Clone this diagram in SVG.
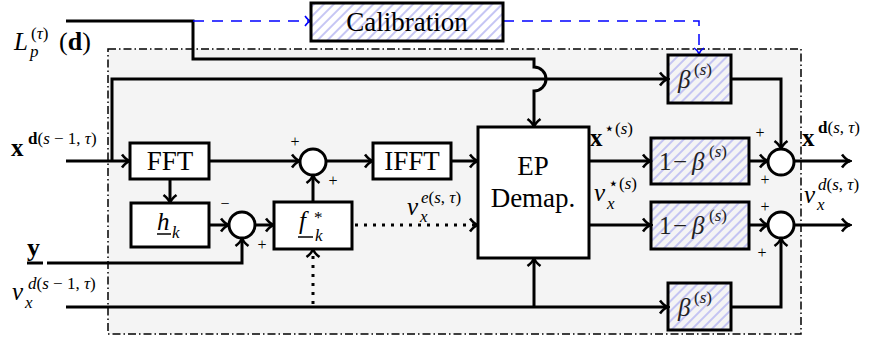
<svg xmlns="http://www.w3.org/2000/svg" width="873" height="343" viewBox="0 0 873 343">
<defs>
<pattern id="hatch" patternUnits="userSpaceOnUse" width="7" height="7" patternTransform="rotate(45)">
<line x1="1" y1="0" x2="1" y2="7" stroke="#b8b8f2" stroke-width="1.6"/>
</pattern>
<marker id="arr" viewBox="-10 -8 12 16" refX="0" refY="0" markerWidth="12" markerHeight="16" markerUnits="userSpaceOnUse" orient="auto">
<path d="M-8,-6.5 C-5,-2.5 -2,-0.6 0,0 C-2,0.6 -5,2.5 -8,6.5" fill="none" stroke="#000" stroke-width="2.6"/>
</marker>
<marker id="barr" viewBox="-10 -8 12 16" refX="0" refY="0" markerWidth="12" markerHeight="16" markerUnits="userSpaceOnUse" orient="auto">
<path d="M-6,-5 C-4,-2 -2,-0.5 0,0 C-2,0.5 -4,2 -6,5" fill="none" stroke="#0000ff" stroke-width="1.5"/>
</marker>
</defs>
<style>
.ln{fill:none;stroke:#000;stroke-width:3}
.dot{fill:none;stroke:#000;stroke-width:3;stroke-dasharray:3 6}
.bl{fill:none;stroke:#0000ff;stroke-width:1.5;stroke-dasharray:11 8}
.box{fill:#fff;stroke:#000;stroke-width:3}
.hb{fill:url(#hatch);stroke:#000;stroke-width:3}
.sum{fill:#fff;stroke:#000;stroke-width:3}
.t{font-family:'Liberation Serif','Times New Roman','DejaVu Serif',serif;fill:#000}
.bx{font-size:27px}
.m{font-size:25px}
.s{font-size:17px}
.i{font-style:italic}
.b{font-weight:bold}
.pm{font-size:16px;text-anchor:middle}
.c{text-anchor:middle}
.g{fill:#222}
</style>
<rect x="0" y="0" width="873" height="343" fill="#fff"/>
<rect id="frame" x="108" y="49" width="693" height="285" fill="#f4f4f4" stroke="#000" stroke-width="1.5" stroke-dasharray="8 3 1.5 3"/>

<g id="connectors">
<path class="ln" d="M66,21 H193 V59 H534 V67 A12,12 0 0 1 534,91 V127" marker-end="url(#arr)"/>
<path class="bl" d="M193,21 H311" marker-end="url(#barr)"/>
<path class="bl" d="M503,21 H699 V54" marker-end="url(#barr)"/>
<path class="ln" d="M66,161 H130" marker-end="url(#arr)"/>
<path class="ln" d="M112,161 V79 H668" marker-end="url(#arr)"/>
<path class="ln" d="M209,161 H300" marker-end="url(#arr)"/>
<path class="ln" d="M170,179 V203" marker-end="url(#arr)"/>
<path class="ln" d="M209,225 H229" marker-end="url(#arr)"/>
<path class="ln" d="M47,263 H242 V238" marker-end="url(#arr)"/>
<path class="ln" d="M255,225 H274" marker-end="url(#arr)"/>
<path class="ln" d="M313,202 V175" marker-end="url(#arr)"/>
<path class="ln" d="M326,161 H373" marker-end="url(#arr)"/>
<path class="ln" d="M451,161 H478" marker-end="url(#arr)"/>
<path class="dot" d="M355,225 H478" marker-end="url(#arr)"/>
<path class="ln" d="M66,307 H668" marker-end="url(#arr)"/>
<path class="ln" d="M534,307 V258" marker-end="url(#arr)"/>
<path class="dot" d="M313,304 V249" marker-end="url(#arr)"/>
<path class="ln" d="M589,161 H651" marker-end="url(#arr)"/>
<path class="ln" d="M589,225 H651" marker-end="url(#arr)"/>
<path class="ln" d="M749,161 H768" marker-end="url(#arr)"/>
<path class="ln" d="M749,225 H768" marker-end="url(#arr)"/>
<path class="ln" d="M731,79 H781 V149" marker-end="url(#arr)"/>
<path class="ln" d="M731,307 H781 V238" marker-end="url(#arr)"/>
<path class="ln" d="M794,161 H850" marker-end="url(#arr)"/>
<path class="ln" d="M794,225 H850" marker-end="url(#arr)"/>
</g>

<g id="calibration">
<rect class="hb" x="311" y="3" width="192" height="38"/>
<text class="t c" x="407" y="31" font-size="27">Calibration</text>
</g>

<g id="fft">
<rect class="box" x="130" y="143" width="79" height="36"/>
<text class="t bx c" x="170" y="170">FFT</text>
</g>

<g id="hk">
<rect class="box" x="131" y="203" width="78" height="44"/>
<text class="t m i" x="157" y="230">h<tspan class="s" x="172" y="238">k</tspan></text>
<line x1="157" y1="234" x2="171" y2="234" stroke="#000" stroke-width="1.5"/>
</g>

<g id="sum1">
<circle class="sum" cx="242" cy="225" r="13"/>
<text class="t pm" x="225" y="209">−</text>
<text class="t pm" x="262" y="250">+</text>
</g>

<g id="fk">
<rect class="box" x="274" y="202" width="78" height="47"/>
<text class="t m i" x="299" y="229">f<tspan class="s" x="314" y="223" font-style="normal">*</tspan><tspan class="s" x="315" y="241">k</tspan></text>
<line x1="298" y1="237" x2="313" y2="237" stroke="#000" stroke-width="1.5"/>
</g>

<g id="sum2">
<circle class="sum" cx="313" cy="162" r="13"/>
<text class="t pm" x="295" y="147">+</text>
<text class="t pm" x="333" y="186">+</text>
</g>

<g id="ifft">
<rect class="box" x="373" y="143" width="78" height="36"/>
<text class="t bx c" x="412" y="170">IFFT</text>
</g>

<g id="ep">
<rect class="box" x="478" y="127" width="111" height="131"/>
<text class="t bx c" x="533" y="175">EP</text>
<text class="t bx c" x="533" y="207">Demap.</text>
</g>

<g id="beta-top">
<rect class="hb" x="668" y="55" width="63" height="48"/>
<text class="t m i g" x="678" y="88">β<tspan class="s" x="694" y="75" font-style="normal">(<tspan font-style="italic">s</tspan>)</tspan></text>
</g>

<g id="omb-top">
<rect class="hb" x="651" y="138" width="98" height="46"/>
<text class="t m g" x="659" y="170">1<tspan x="673">−</tspan><tspan class="i" x="692">β</tspan><tspan class="s" x="709" y="157">(<tspan class="i">s</tspan>)</tspan></text>
</g>

<g id="omb-bot">
<rect class="hb" x="651" y="202" width="98" height="47"/>
<text class="t m g" x="659" y="234">1<tspan x="673">−</tspan><tspan class="i" x="692">β</tspan><tspan class="s" x="709" y="221">(<tspan class="i">s</tspan>)</tspan></text>
</g>

<g id="beta-bot">
<rect class="hb" x="668" y="283" width="63" height="47"/>
<text class="t m i g" x="678" y="316">β<tspan class="s" x="694" y="303" font-style="normal">(<tspan font-style="italic">s</tspan>)</tspan></text>
</g>

<g id="sum3">
<circle class="sum" cx="781" cy="162" r="13"/>
<text class="t pm" x="760" y="138">+</text>
<text class="t pm" x="765" y="185">+</text>
</g>

<g id="sum4">
<circle class="sum" cx="781" cy="225" r="13"/>
<text class="t pm" x="765" y="212">+</text>
<text class="t pm" x="762" y="258">+</text>
</g>

<g id="labels">
<text class="t m" x="14" y="50"><tspan class="i">L</tspan><tspan class="s i" x="30" y="57">p</tspan><tspan class="s" x="31" y="39">(<tspan class="i">τ</tspan>)</tspan><tspan x="59" y="50" font-size="26">(<tspan class="b">d</tspan>)</tspan></text>

<text class="t m" x="11" y="156"><tspan class="b">x</tspan><tspan class="s" x="28" y="144"><tspan class="b">d</tspan>(<tspan class="i">s</tspan> − 1, <tspan class="i">τ</tspan>)</tspan></text>

<text class="t b" x="27" y="256" font-size="26">y</text>
<line x1="27" y1="263" x2="43" y2="263" stroke="#000" stroke-width="3"/>

<text class="t m i" x="12" y="300">v<tspan class="s" x="25" y="308">x</tspan><tspan class="s" x="28" y="289">d<tspan font-style="normal">(</tspan>s<tspan font-style="normal"> − 1, </tspan>τ<tspan font-style="normal">)</tspan></tspan></text>

<text class="t m i" x="407" y="215">v<tspan class="s" x="420" y="222">x</tspan><tspan class="s" x="421" y="203">e<tspan font-style="normal">(</tspan>s<tspan font-style="normal">, </tspan>τ<tspan font-style="normal">)</tspan></tspan></text>

<text class="t m" x="590" y="146"><tspan class="b">x</tspan><tspan class="s" x="604" y="134">⋆(<tspan class="i">s</tspan>)</tspan></text>

<text class="t m i" x="594" y="201">v<tspan class="s" x="607" y="209">x</tspan><tspan class="s" x="608" y="189" font-style="normal">⋆(<tspan font-style="italic">s</tspan>)</tspan></text>

<text class="t m" x="802" y="146"><tspan class="b">x</tspan><tspan class="s" x="818" y="133"><tspan class="b">d</tspan>(<tspan class="i">s</tspan>, <tspan class="i">τ</tspan>)</tspan></text>

<text class="t m i" x="804" y="203">v<tspan class="s" x="817" y="210">x</tspan><tspan class="s" x="818" y="190">d<tspan font-style="normal">(</tspan>s<tspan font-style="normal">, </tspan>τ<tspan font-style="normal">)</tspan></tspan></text>
</g>
</svg>
